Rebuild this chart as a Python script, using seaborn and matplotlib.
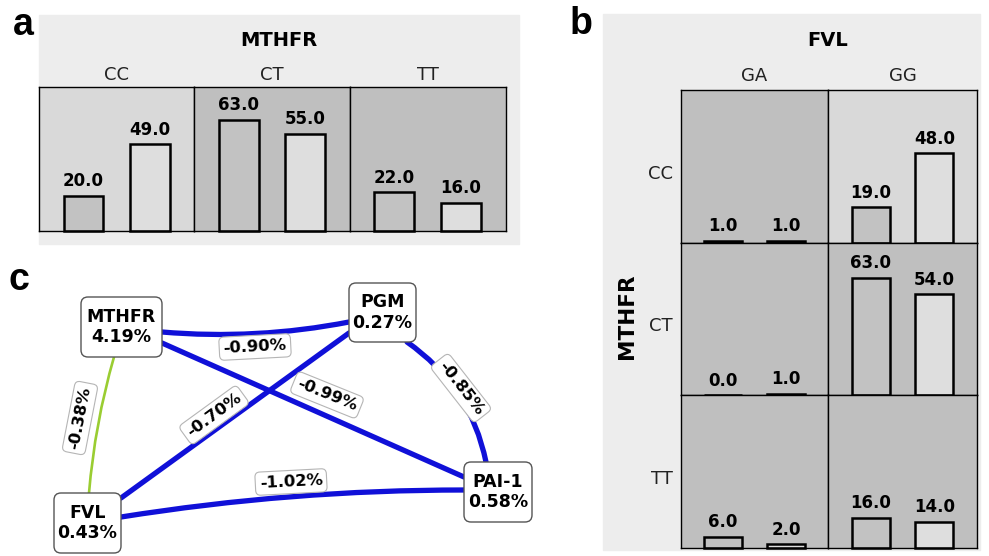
import pandas as pd
import matplotlib
matplotlib.use('Agg')
import matplotlib.pyplot as plt
from matplotlib.patches import Rectangle, FancyBboxPatch, FancyArrowPatch
import seaborn as sns

sns.set_theme(style='white')
plt.rcParams['font.family'] = ['DejaVu Sans']
plt.rcParams['text.color'] = 'black'

"""
Genotype counts for MTHFR and FVL (panels a, b) and the
interaction network between the four loci (panel c).
"""

W, H = 989, 556

# data
groups = ['group 1', 'group 2']
mthfr_genotypes = ['CC', 'CT', 'TT']
fvl_genotypes = ['GA', 'GG']
mthfr_group1 = [20, 63, 22]
mthfr_group2 = [49, 55, 16]
# rows: MTHFR genotype, columns: FVL genotype
fvl_group1 = [[1, 19], [0, 63], [6, 16]]
fvl_group2 = [[1, 48], [1, 54], [2, 14]]

nodes = ['MTHFR', 'PGM', 'FVL', 'PAI-1']
node_pct = [4.19, 0.27, 0.43, 0.58]
edge_pairs = [('MTHFR', 'PGM'), ('MTHFR', 'PAI-1'), ('PGM', 'FVL'),
              ('PGM', 'PAI-1'), ('MTHFR', 'FVL'), ('FVL', 'PAI-1')]
edge_pct = [-0.90, -0.99, -0.70, -0.85, -0.38, -1.02]

# styles / layout (pixel units)
bar_colors = ['#c2c2c2', '#dedede']
light_cell, dark_cell = '#d9d9d9', '#bfbfbf'
panel_bg = '#ededed'
a_cells = [light_cell, dark_cell, dark_cell]
b_cells = [[dark_cell, light_cell], [dark_cell, dark_cell], [dark_cell, dark_cell]]
a_x = [39, 194.3, 349.7, 505.7]
a_y = (87, 231)
b_x = [681, 828, 977]
b_y = [90.4, 242.9, 395.4, 547.9]

node_box = {'MTHFR': (81, 297, 162, 357), 'PGM': (349, 283, 416, 342),
            'FVL': (54, 493, 121, 553), 'PAI-1': (464, 462, 532, 522)}
edge_ends = [((162, 332), (349, 322)), ((162, 343), (464, 477)),
             ((349, 333), (121, 498)), ((407, 342), (486, 462)),
             ((114, 357), (89, 493)), ((121, 517), (464, 490))]
edge_rad = [0.07, 0, 0, -0.2, 0.05, -0.04]
label_pos = [(255, 347), (327, 395), (214, 415), (461, 388), (80, 418), (291, 482)]
label_rot = [3, -22, 36, -52, 79, 3]


def px_axes(fig, x0, y0, x1, y1):
    return fig.add_axes([x0 / W, 1 - y1 / H, (x1 - x0) / W, (y1 - y0) / H])


def draw_cell(ax, v1, v2, bg):
    df = pd.DataFrame({'group': groups, 'count': [v1, v2]})
    sns.barplot(data=df, x='group', y='count', hue='group', palette=bar_colors,
                width=0.6, edgecolor='black', linewidth=1.8, legend=False, ax=ax)
    ax.set_xlim(-0.67, 1.67)
    ax.set_ylim(0, 81.5)
    ax.set_facecolor(bg)
    for p in ax.patches:
        p.set_clip_on(False)
    for c in ax.containers:
        ax.bar_label(c, fmt='%.1f', padding=4, fontsize=12, fontweight='bold',
                     color='black')
    ax.set_xticks([])
    ax.set_yticks([])
    ax.set_xlabel('')
    ax.set_ylabel('')
    for s in ax.spines.values():
        s.set_color('black')
        s.set_linewidth(1)
    ax.set_zorder(1)


fig = plt.figure(figsize=(W / 100, H / 100), dpi=100)
base = fig.add_axes([0, 0, 1, 1])
base.set_xlim(0, W)
base.set_ylim(H, 0)
base.axis('off')

# panel a
base.add_patch(Rectangle((39, 15), 480, 229, color=panel_bg, zorder=0))
base.text(279, 40, 'MTHFR', ha='center', va='center', fontsize=14, fontweight='bold')
for i, g in enumerate(mthfr_genotypes):
    ax = px_axes(fig, a_x[i], a_y[0], a_x[i + 1], a_y[1])
    draw_cell(ax, mthfr_group1[i], mthfr_group2[i], a_cells[i])
    base.text((a_x[i] + a_x[i + 1]) / 2, 75, g, ha='center', va='center',
              fontsize=13, color='#222222')

# panel b
base.add_patch(Rectangle((603, 13.5), 377, 536.5, color=panel_bg, zorder=0))
base.text(828, 41, 'FVL', ha='center', va='center', fontsize=14, fontweight='bold')
base.text(627, 316, 'MTHFR', ha='center', va='center', rotation=90,
          fontsize=15.5, fontweight='bold')
for j, g in enumerate(fvl_genotypes):
    base.text((b_x[j] + b_x[j + 1]) / 2, 76, g, ha='center', va='center',
              fontsize=13, color='#222222')
for i, g in enumerate(mthfr_genotypes):
    base.text(673, (b_y[i] + b_y[i + 1]) / 2 + 7, g, ha='right', va='center',
              fontsize=13, color='#222222')
    for j in range(len(fvl_genotypes)):
        ax = px_axes(fig, b_x[j], b_y[i], b_x[j + 1], b_y[i + 1])
        draw_cell(ax, fvl_group1[i][j], fvl_group2[i][j], b_cells[i][j])

# panel c: network
for k, (a, b) in enumerate(edge_pairs):
    weak = edge_pct[k] > -0.5
    arc = FancyArrowPatch(edge_ends[k][0], edge_ends[k][1],
                          connectionstyle=f'arc3,rad={edge_rad[k]}',
                          arrowstyle='-', shrinkA=0, shrinkB=0,
                          color='#9acd32' if weak else '#1010d8',
                          lw=1.9 if weak else 3.8, zorder=2)
    base.add_patch(arc)
    base.text(label_pos[k][0], label_pos[k][1], f'{edge_pct[k]:.2f}%',
              rotation=label_rot[k], rotation_mode='anchor', ha='center', va='center',
              fontsize=11.8, fontweight='bold', zorder=4,
              bbox=dict(boxstyle='round,pad=0.25,rounding_size=0.3',
                        fc='white', ec='#b5b5b5', lw=0.8))

for name, pct in zip(nodes, node_pct):
    x0, y0, x1, y1 = node_box[name]
    r = 7
    base.add_patch(FancyBboxPatch((x0 + r, y0 + r), x1 - x0 - 2 * r, y1 - y0 - 2 * r,
                                  boxstyle=f'round,pad={r}', fc='white',
                                  ec='#555555', lw=1, zorder=3))
    base.text((x0 + x1) / 2, (y0 + y1) / 2, f'{name}\n{pct:.2f}%', ha='center',
              va='center', fontsize=12.5, fontweight='bold', linespacing=1.15, zorder=5)

# panel letters
for letter, (x, y) in zip('abc', [(13, 35), (570, 34), (8, 290)]):
    base.text(x, y, letter, ha='left', va='baseline', fontsize=27,
              fontweight='bold', family=['Liberation Sans', 'DejaVu Sans'])

plt.savefig('out.png', dpi=100)
